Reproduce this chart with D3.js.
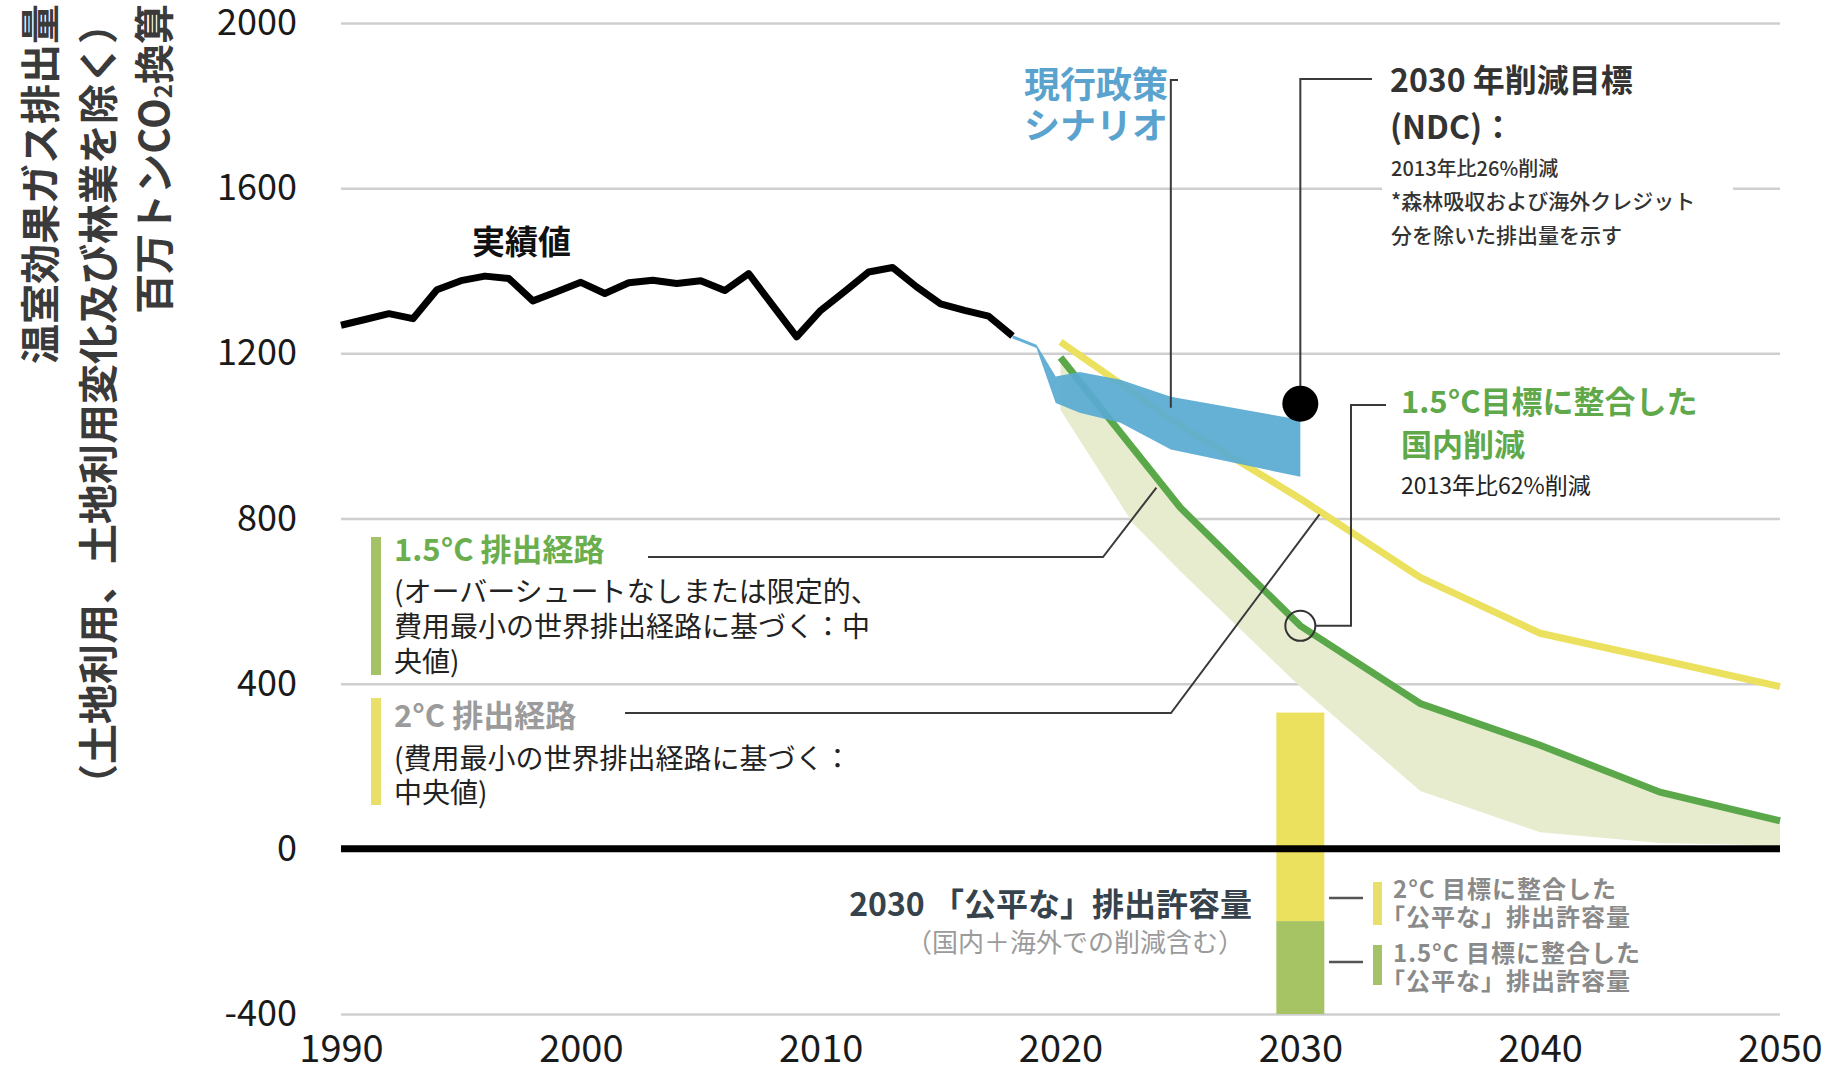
<!DOCTYPE html>
<html><head><meta charset="utf-8">
<script src="https://cdn.jsdelivr.net/npm/d3@7"></script>
<style>
html,body{margin:0;padding:0;background:#fff;}
svg{display:block;font-family:"Noto Sans CJK JP","Noto Sans",sans-serif;}
</style></head>
<body><svg id="c" width="1826" height="1066"></svg>
<script>
// ---------- data ----------
const histYears  = [1990,1991,1992,1993,1994,1995,1996,1997,1998,1999,2000,2001,2002,2003,2004,2005,2006,2007,2008,2009,2010,2011,2012,2013,2014,2015,2016,2017,2018];
const histValues = [1268,1282,1296,1284,1354,1376,1387,1381,1327,1349,1372,1345,1371,1377,1369,1376,1352,1393,1316,1240,1304,1350,1397,1408,1361,1320,1304,1290,1242];

const policyYears = [2018,2019,2019.8,2020.8,2022.5,2024.6,2030];
const policyHigh  = [1244,1221,1144,1155,1136,1095,1039];
const policyLow   = [1236,1213,1080,1056,1032,967,901];

const pathYears = [2020,2025,2030,2035,2040,2045,2050];
const path2C    = [1228,1025,848,657,522,458,393];
const path15    = [1190,826,540,352,251,137,68];

const rangeYears = [2020,2023,2025,2030,2035,2040,2045,2050];
const range15High = [1194,976,830,546,357,256,142,72];
const range15Low  = [1063,790,672,392,140,40,14,8];

const fairYear = 2030;
const fairShares = [
  {label:"2°C",   from:-175, to:330,  color:"#ece15f"},
  {label:"1.5°C", from:-400, to:-175, color:"#a7c464"}
];
const ndcPoint = {year:2030, value:1078};
const target15Point = {year:2030, value:540};

const yTicks = [-400,0,400,800,1200,1600,2000];
const gridValues = [-400,400,800,1200,1600,2000];
const xTicks = [1990,2000,2010,2020,2030,2040,2050];

// ---------- setup ----------
const svg = d3.select("#c");
const x = d3.scaleLinear().domain([1990,2050]).range([341,1780]);
const y = d3.scaleLinear().domain([-400,2000]).range([1014,23]);
const X0 = x.range()[0], X1 = x.range()[1];

svg.append("rect").attr("width",1826).attr("height",1066).attr("fill","#fff");

// gridlines
const grid = svg.append("g").attr("transform",`translate(${X0},0)`)
  .call(d3.axisLeft(y).tickValues(gridValues).tickSize(-(X1-X0)).tickFormat(""));
grid.select(".domain").remove();
grid.selectAll("line").attr("stroke","#cfcfcf").attr("stroke-width",2.5);

// white gap for NDC note
svg.append("rect").attr("x",1382).attr("y",182).attr("width",351).attr("height",16).attr("fill","#fff");

// y tick labels
const yAx = svg.append("g").attr("transform",`translate(${X0},0)`)
  .call(d3.axisLeft(y).tickValues(yTicks).tickSize(0).tickPadding(44).tickFormat(d=>String(d)));
yAx.select(".domain").remove();
yAx.selectAll("text").attr("font-size",36).attr("fill","#1a1a1a")
  .attr("font-family",'"Noto Sans CJK JP",sans-serif');

// x tick labels
const xAx = svg.append("g").attr("transform",`translate(0,${y(-400)})`)
  .call(d3.axisBottom(x).tickValues(xTicks).tickSize(0).tickPadding(21).tickFormat(d=>String(d)));
xAx.select(".domain").remove();
xAx.selectAll("text").attr("font-size",38).attr("fill","#1a1a1a")
  .attr("font-family",'"Noto Sans CJK JP",sans-serif');

// 1.5 range band
svg.append("path")
  .datum(rangeYears.map((d,i)=>({yr:d,lo:range15Low[i],hi:range15High[i]})))
  .attr("d", d3.area().x(d=>x(d.yr)).y0(d=>y(d.lo)).y1(d=>y(d.hi)))
  .attr("fill","#e7ecce");

// pathways
const line = d3.line().x(d=>x(d[0])).y(d=>y(d[1]));
svg.append("path").datum(pathYears.map((d,i)=>[d,path2C[i]]))
  .attr("d",line).attr("fill","none").attr("stroke","#ece15f").attr("stroke-width",7);
svg.append("path").datum(pathYears.map((d,i)=>[d,path15[i]]))
  .attr("d",line).attr("fill","none").attr("stroke","#5ba84a").attr("stroke-width",7);

// current policy band
svg.append("path")
  .datum(policyYears.map((d,i)=>({yr:d,lo:policyLow[i],hi:policyHigh[i]})))
  .attr("d", d3.area().x(d=>x(d.yr)).y0(d=>y(d.lo)).y1(d=>y(d.hi)))
  .attr("fill","#58aad3").attr("opacity",0.92);

// historical
svg.append("path").datum(histYears.map((d,i)=>[d,histValues[i]]))
  .attr("d",line).attr("fill","none").attr("stroke","#000").attr("stroke-width",7)
  .attr("stroke-linejoin","round");

// fair share bar
svg.selectAll("rect.fair").data(fairShares).enter().append("rect")
  .attr("class","fair")
  .attr("x",x(fairYear-1)).attr("width",x(fairYear+1)-x(fairYear-1))
  .attr("y",d=>y(d.to)).attr("height",d=>y(d.from)-y(d.to))
  .attr("fill",d=>d.color);

// zero line
svg.append("line").attr("x1",X0).attr("x2",X1).attr("y1",y(0)).attr("y2",y(0))
  .attr("stroke","#000").attr("stroke-width",7);

// ---------- leaders ----------
const lc = "#3a3a3a";
function poly(pts){
  svg.append("path").attr("d",d3.line()(pts)).attr("fill","none")
    .attr("stroke",lc).attr("stroke-width",2);
}
poly([[1178,80],[x(2024.6),80],[x(2024.6),y(1068)]]);
poly([[x(ndcPoint.year),y(ndcPoint.value)],[x(ndcPoint.year),79],[1372,79]]);
poly([[x(target15Point.year)+15,y(target15Point.value)],[1351,y(target15Point.value)],[1351,405],[1386,405]]);
poly([[648,557],[1103,557],[x(2024.0),y(875)]]);
poly([[625,713],[1171,713],[x(2030.8),y(810)]]);
svg.append("line").attr("x1",1329).attr("x2",1363).attr("y1",898).attr("y2",898).attr("stroke","#555").attr("stroke-width",2.5);
svg.append("line").attr("x1",1329).attr("x2",1363).attr("y1",962).attr("y2",962).attr("stroke","#555").attr("stroke-width",2.5);

// markers
svg.append("circle").attr("cx",x(ndcPoint.year)).attr("cy",y(ndcPoint.value)).attr("r",18).attr("fill","#000");
svg.append("circle").attr("cx",x(target15Point.year)).attr("cy",y(target15Point.value)).attr("r",15)
  .attr("fill","none").attr("stroke","#333").attr("stroke-width",2);

// ---------- texts ----------
function txt(s,xp,yp,size,fill,weight,anchor){
  return svg.append("text").attr("x",xp).attr("y",yp).attr("font-size",size)
    .attr("fill",fill).attr("font-weight",weight||400).attr("text-anchor",anchor||"start").text(s);
}
function vtxt(s,cx){
  return svg.append("text").attr("transform",`translate(${cx},4) rotate(-90)`)
    .attr("text-anchor","end").attr("dominant-baseline","central")
    .attr("font-size",40).attr("font-weight",700).attr("fill","#3a3a3a").text(s);
}
vtxt("温室効果ガス排出量",38);
vtxt("（土地利用、土地利用変化及び林業を除く）",96);
const t3 = svg.append("text").attr("transform",`translate(152,4) rotate(-90)`)
  .attr("text-anchor","end").attr("dominant-baseline","central")
  .attr("font-size",40).attr("font-weight",700).attr("fill","#3a3a3a");
t3.append("tspan").text("百万トンCO");
t3.append("tspan").attr("font-size",24).attr("dy",9).text("2");
t3.append("tspan").attr("dy",-9).text("換算");

txt("実績値",472,254,33,"#111",700);

txt("現行政策",1024,98,36,"#5ba3cf",700);
txt("シナリオ",1024,139,36,"#5ba3cf",700);

txt("2030 年削減目標",1390,92,32,"#333",700);
txt("(NDC)：",1390,139,32,"#333",700);
txt("2013年比26%削減",1391,176,20,"#333",500);
txt("*森林吸収および海外クレジット",1391,209,21,"#333",500);
txt("分を除いた排出量を示す",1391,243,21,"#333",500);

txt("1.5°C目標に整合した",1401,413,31,"#5fa94b",700);
txt("国内削減",1401,456,31,"#5fa94b",700);
txt("2013年比62%削減",1401,494,23,"#222",400);

svg.append("rect").attr("x",371).attr("y",537).attr("width",10).attr("height",138).attr("fill","#a3c366");
svg.append("rect").attr("x",371).attr("y",698).attr("width",10).attr("height",107).attr("fill","#e8e06a");
txt("1.5°C 排出経路",394,561,31,"#6aae4e",700);
txt("(オーバーシュートなしまたは限定的、",394,602,28,"#222",400);
txt("費用最小の世界排出経路に基づく：中",394,637,28,"#222",400);
txt("央値)",394,672,28,"#222",400);
txt("2°C 排出経路",394,727,31,"#9b9b9b",700);
txt("(費用最小の世界排出経路に基づく：",394,769,28,"#222",400);
txt("中央値)",394,803,28,"#222",400);

txt("2030 「公平な」排出許容量",1252,916,32,"#36434d",700,"end");
txt("（国内＋海外での削減含む）",1244,952,26,"#9b9b9b",400,"end");

svg.append("rect").attr("x",1373).attr("y",882).attr("width",9).attr("height",43).attr("fill","#e8e06a");
svg.append("rect").attr("x",1373).attr("y",945).attr("width",9).attr("height",40).attr("fill","#a3c366");
txt("2°C 目標に整合した",1393,898,24,"#8a8a8a",700).attr("letter-spacing",1);
txt("「公平な」排出許容量",1381,926,24,"#8a8a8a",700).attr("letter-spacing",1);
txt("1.5°C 目標に整合した",1393,962,24,"#8a8a8a",700).attr("letter-spacing",1);
txt("「公平な」排出許容量",1381,990,24,"#8a8a8a",700).attr("letter-spacing",1);
</script></body></html>
